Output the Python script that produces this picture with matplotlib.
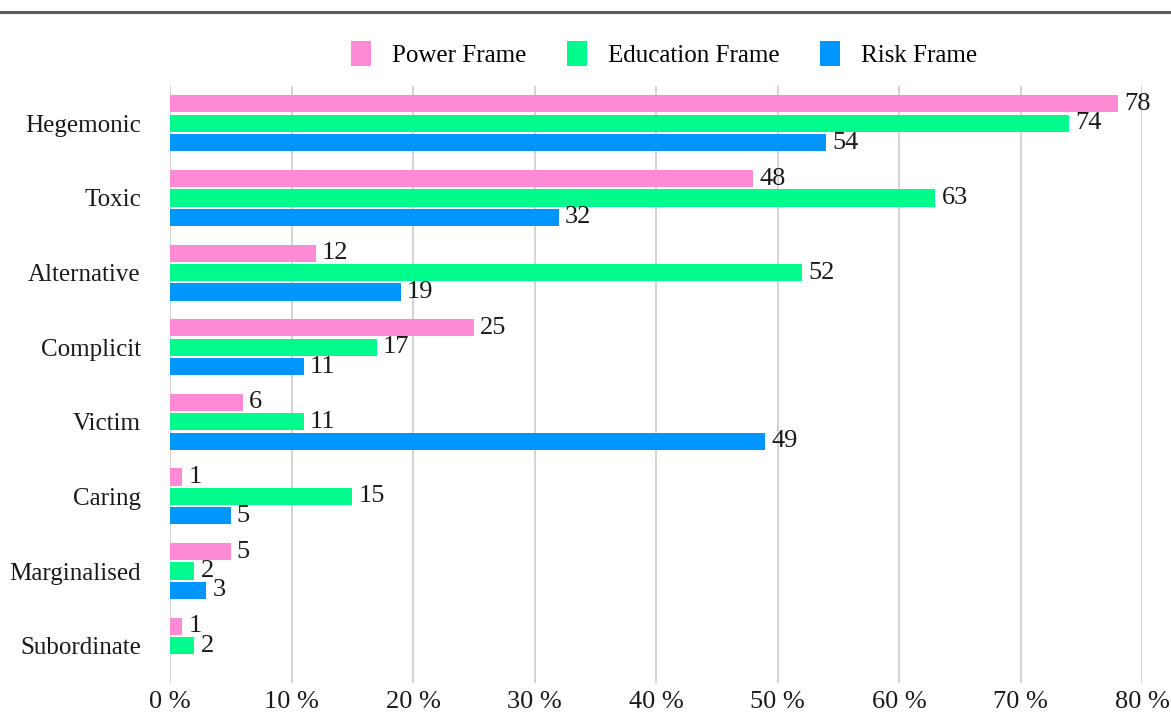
import numpy as np
import matplotlib
matplotlib.use("Agg")
import matplotlib.pyplot as plt

categories = ["Hegemonic", "Toxic", "Alternative", "Complicit", "Victim",
              "Caring", "Marginalised", "Subordinate"]
power_frame = [78, 48, 12, 25, 6, 1, 5, 1]
education_frame = [74, 63, 52, 17, 11, 15, 2, 2]
risk_frame = [54, 32, 19, 11, 49, 5, 3, None]
series_names = ["Power Frame", "Education Frame", "Risk Frame"]
x_ticks = [0, 10, 20, 30, 40, 50, 60, 70, 80]

colors = ["#ff8bd6", "#00fb8c", "#0096ff"]
plt.rcParams["font.family"] = ["Liberation Serif", "DejaVu Serif"]
text_color = "#1a1a1a"

W, H, DPI = 1171, 713, 100
fig = plt.figure(figsize=(W / DPI, H / DPI), dpi=DPI)
ax = fig.add_axes([170 / W, 1 - 683 / H, (1142 - 170) / W, (683 - 86) / H])

y = np.arange(len(categories))
offsets = [-0.26, 0.0, 0.26]
bar_h = 0.23
for vals, off, col, name in zip([power_frame, education_frame, risk_frame],
                                offsets, colors, series_names):
    v = np.array([np.nan if a is None else a for a in vals], dtype=float)
    ax.barh(y + off, np.nan_to_num(v), height=bar_h, color=col,
            label=name, zorder=3)
    for yi, val in zip(y + off, v):
        if np.isnan(val):
            continue
        ax.text(val + 0.5, yi, f"{int(val)}", va="center", ha="left",
                fontsize=19, color=text_color, zorder=4)

ax.set_ylim(len(categories) - 0.5, -0.5)
ax.set_xlim(0, 80)
ax.set_yticks(y)
ax.set_yticklabels(categories, fontsize=18, color=text_color)
ax.set_xticks(x_ticks)
ax.set_xticklabels([f"{t} %" for t in x_ticks], fontsize=19, color=text_color)
ax.tick_params(axis="x", length=0, pad=6)
ax.tick_params(axis="y", length=0, pad=21)
ax.grid(axis="x", color="#cccccc", linewidth=1.2, zorder=0)
for s in ax.spines.values():
    s.set_visible(False)

fig.legend(loc="center", bbox_to_anchor=(664 / W, 1 - 54 / H), ncol=3,
           frameon=False, fontsize=18, handlelength=0.8, handleheight=1.15,
           handletextpad=0.85, columnspacing=1.6)

fig.add_artist(plt.Line2D([0, 1], [1 - 12 / H, 1 - 12 / H], color="#5a5a5a",
                          linewidth=2.2, transform=fig.transFigure))

fig.savefig("out.png", dpi=DPI)
